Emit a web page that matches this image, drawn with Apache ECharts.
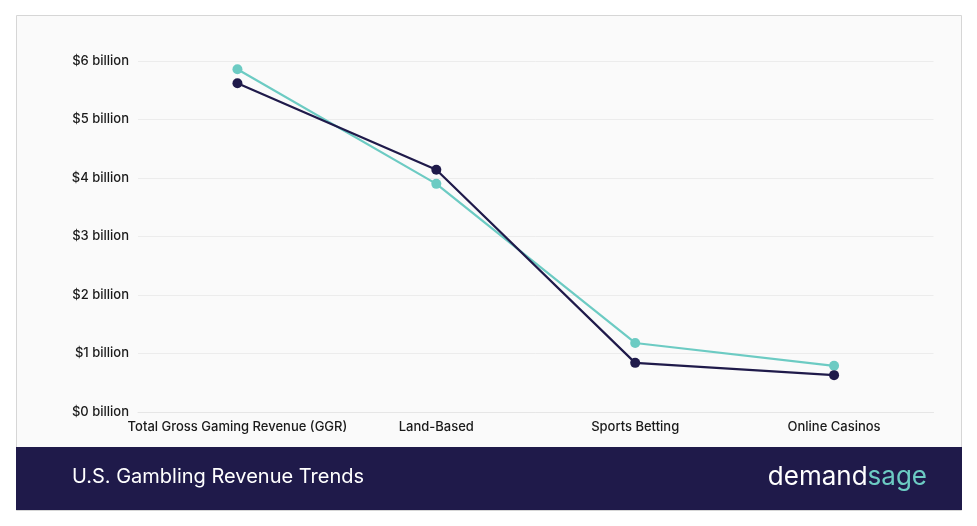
<!DOCTYPE html>
<html><head><meta charset="utf-8">
<script src="https://cdn.jsdelivr.net/npm/echarts@6/dist/echarts.min.js"></script>
<style>html,body{margin:0;padding:0;background:#fff;}#c{width:977px;height:526px;}</style>
</head><body><div id="c"></div>
<script>
const categories = ['Total Gross Gaming Revenue (GGR)', 'Land-Based', 'Sports Betting', 'Online Casinos'];
const seriesTeal = [5.86, 3.90, 1.18, 0.79];
const seriesNavy = [5.62, 4.14, 0.84, 0.63];
const yTicks = [0, 1, 2, 3, 4, 5, 6];
const title = 'U.S. Gambling Revenue Trends';

const chart = echarts.init(document.getElementById('c'));
const font = 'Inter, "Noto Sans", sans-serif';
chart.setOption({
  animation: false,
  graphic: [
    { type: 'rect', z: -10, shape: { x: 16.5, y: 15.5, width: 945, height: 495 }, style: { fill: '#fafafa', stroke: '#d6d6d6', lineWidth: 1 } },
    { type: 'rect', z: -9, shape: { x: 16, y: 447, width: 946, height: 63 }, style: { fill: '#1f1a4a' } },
    { type: 'text', left: 72, top: 467, style: { text: title, fill: '#ffffff', font: '400 20px ' + font } },
    { type: 'text', right: 50, top: 464, style: { text: '{a|demand}{b|sage}', rich: { a: { fill: '#ffffff', font: '400 26px ' + font }, b: { fill: '#6ccbc3', font: '400 26px ' + font } } } }
  ],
  grid: { left: 138, right: 43.5, top: 61, bottom: 114 },
  xAxis: {
    type: 'category', data: categories, boundaryGap: true,
    axisLine: { lineStyle: { color: '#e6e6e6' } },
    axisTick: { show: false },
    axisLabel: { color: '#1a1a1a', fontSize: 13, fontWeight: 500, fontFamily: font, margin: 9, interval: 0 }
  },
  yAxis: {
    type: 'value', min: 0, max: 6, interval: 1,
    axisLine: { show: false }, axisTick: { show: false },
    splitLine: { lineStyle: { color: '#ececec' } },
    axisLabel: { color: '#1a1a1a', fontSize: 13, fontWeight: 500, fontFamily: font, margin: 9,
      formatter: v => yTicks.includes(v) ? '$' + v + ' billion' : '' }
  },
  series: [
    { type: 'line', data: seriesTeal, symbol: 'circle', symbolSize: 10,
      lineStyle: { color: '#6ccbc3', width: 2.2 }, itemStyle: { color: '#6ccbc3' } },
    { type: 'line', data: seriesNavy, symbol: 'circle', symbolSize: 10,
      lineStyle: { color: '#1f1a4a', width: 2.2 }, itemStyle: { color: '#1f1a4a' } }
  ]
});
</script></body></html>
